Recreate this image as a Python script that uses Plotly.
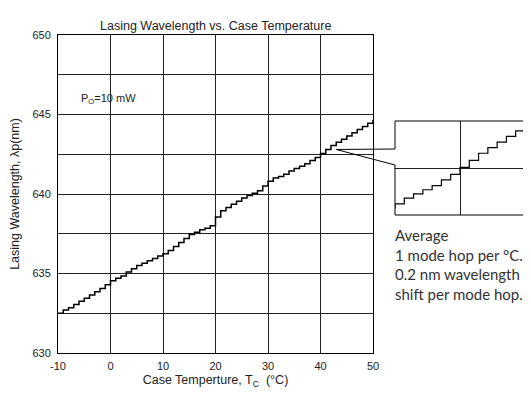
import plotly.graph_objects as go

# Data: lasing wavelength (nm) held at each case temperature step (°C)
temps = list(range(-10, 51))
wavelength = [
    632.50, 632.70, 632.85, 633.05, 633.25, 633.45, 633.65, 633.85, 634.05, 634.30,
    634.55, 634.70, 634.85, 635.10, 635.30, 635.50, 635.65, 635.80, 635.95, 636.10,
    636.25, 636.45, 636.70, 636.95, 637.20, 637.45, 637.60, 637.75, 637.85, 638.00,
    638.55, 638.95, 639.15, 639.35, 639.55, 639.75, 639.90, 640.05, 640.20, 640.50,
    640.80, 641.00, 641.10, 641.25, 641.45, 641.60, 641.75, 641.90, 642.10, 642.30,
    642.55, 642.80, 643.05, 643.25, 643.45, 643.65, 643.85, 644.05, 644.25, 644.45,
    644.65,
]
x_ticks = [-10, 0, 10, 20, 30, 40, 50]
x_ticktext = ["-10", "0", "10", "20", "30", "40", "50"]
y_ticks = [630, 635, 640, 645, 650]
y_ticktext = ["630", "635", "640", "645", "650"]

OFF = 8  # page body margin
W, H = 531 - OFF, 396 - OFF
ML, MR, MT, MB = 58 - OFF, 4, 35 - OFF, 43
PW = W - ML - MR
PH = H - MT - MB
main_w = 315
main_dom = main_w / PW

def px(xs):
    return (xs - OFF - ML) / PW

def py(ys):
    return (H - MB - (ys - OFF)) / PH

xr = [-10, 50]
yr = [630, 650]

FONT = "Liberation Sans, Arial, sans-serif"
fig = go.Figure()
fig.add_trace(go.Scatter(x=temps, y=wavelength, mode="lines",
                         line=dict(color="black", width=1.5, shape="hv"),
                         showlegend=False, xaxis="x", yaxis="y"))
fig.add_trace(go.Scatter(x=temps, y=wavelength, mode="lines",
                         line=dict(color="black", width=1.2, shape="hv"),
                         showlegend=False, xaxis="x2", yaxis="y2"))

grid = "#222222"
fig.update_layout(
    width=W, height=H,
    margin=dict(l=ML, r=MR, t=MT, b=MB),
    paper_bgcolor="white", plot_bgcolor="white",
    font=dict(family=FONT, color="#222", size=11),
    xaxis=dict(domain=[0, main_dom], range=xr, tickvals=x_ticks, ticktext=x_ticktext,
               automargin=False,
               showgrid=True, gridcolor=grid, gridwidth=1, zeroline=False,
               showline=True, linecolor="black", linewidth=1, mirror=True,
               ticks="outside", ticklen=3, tickcolor="white",
               tickfont=dict(size=11, family=FONT, color="#222"),
               title=dict(text="Case Temperture, T<sub>C</sub>  (°C)", standoff=4,
                          font=dict(size=12.5, family=FONT, color="#222"))),
    yaxis=dict(domain=[0, 1], range=yr, tickvals=y_ticks, ticktext=y_ticktext,
               automargin=False,
               showgrid=True, gridcolor=grid, gridwidth=1, zeroline=False,
               showline=True, linecolor="black", linewidth=1, mirror=True,
               ticks="outside", ticklen=4, tickcolor="white",
               tickfont=dict(size=11, family=FONT, color="#222"),
               minor=dict(dtick=2.5, showgrid=True, gridcolor=grid, gridwidth=1, ticks=""),
               title=dict(text="Lasing Wavelength, λp(nm)", standoff=10,
                          font=dict(size=12.5, family=FONT, color="#222"))),
    xaxis2=dict(domain=[px(395), px(525)], anchor="y2", range=[33, 47], automargin=False,
                tick0=40, dtick=20, showticklabels=False, ticks="",
                showgrid=True, gridcolor=grid, gridwidth=1, zeroline=False, showline=False),
    yaxis2=dict(domain=[py(215), py(121)], anchor="x2", range=[640.85, 644.2], automargin=False,
                tick0=642.5, dtick=20, showticklabels=False, ticks="",
                showgrid=True, gridcolor=grid, gridwidth=1, zeroline=False, showline=False),
)

# callout tip on the main curve (data coords -> paper)
tip_T, tip_w = 43.0, 642.8
tx = (tip_T - xr[0]) / (xr[1] - xr[0]) * main_dom
ty = (tip_w - yr[0]) / (yr[1] - yr[0])
path = (f"M {tx} {ty} L {px(395)} {py(149)} L {px(395)} {py(121)} L {px(525)} {py(121)} "
        f"L {px(525)} {py(215)} L {px(395)} {py(215)} L {px(395)} {py(165)} Z")
fig.add_shape(type="path", path=path, xref="paper", yref="paper",
              line=dict(color="black", width=1), fillcolor="rgba(0,0,0,0)")

fig.add_annotation(text="Lasing Wavelength vs. Case Temperature", xref="paper", yref="paper",
                   x=main_dom / 2, y=py(17), showarrow=False,
                   font=dict(size=12.5, family=FONT, color="#222"))
fig.add_annotation(text="P<sub>O</sub>=10 mW", x=-6, y=646.0, xanchor="left", yanchor="middle",
                   showarrow=False, font=dict(size=11, family=FONT, color="#222"))
fig.add_annotation(text="Average<br>1 mode hop per °C.<br>0.2 nm wavelength<br>shift per mode hop.",
                   xref="paper", yref="paper", x=px(393), y=py(224), xanchor="left", yanchor="top",
                   align="left", showarrow=False,
                   font=dict(size=15, family="Lato, Noto Sans, sans-serif", color="#333"))

fig.write_html("out.html")
